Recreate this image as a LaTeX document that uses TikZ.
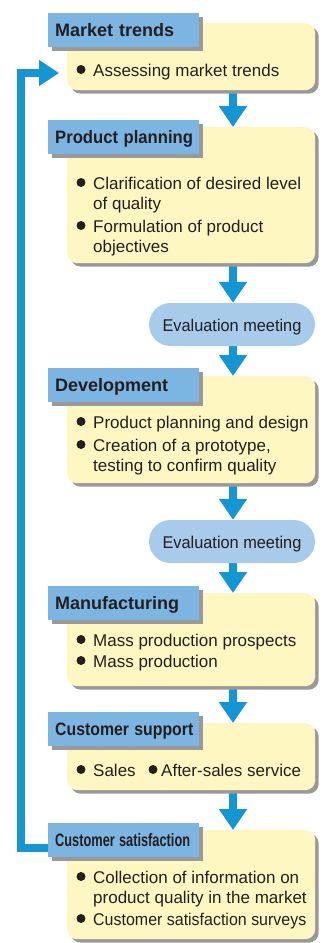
\documentclass[tikz,border=0pt]{standalone}
\usepackage{fontspec}
\usepackage{graphicx}
\setmainfont{Liberation Sans}
\usetikzlibrary{arrows.meta,shadows,backgrounds}
\definecolor{boxyellow}{HTML}{FFF7C2}
\definecolor{titleblue}{HTML}{7DB5E2}
\definecolor{pillblue}{HTML}{A8CBEB}
\definecolor{flowblue}{HTML}{1496D4}
\definecolor{shadowgray}{HTML}{999999}
\definecolor{inkdark}{HTML}{231F20}
\newcommand{\twolines}[2]{\vtop{\baselineskip=20pt\hbox{#1}\hbox{#2}}}
\begin{document}
\begin{tikzpicture}[x=1pt,y=-1pt,
  ybox/.style={fill=boxyellow, rounded corners=10pt, anchor=north west,
    minimum width=248pt, minimum height=#1, inner sep=0pt,
    general shadow={fill=shadowgray, shadow xshift=3.5pt, shadow yshift=-3.5pt}},
  titlebox/.style={fill=titleblue, anchor=north west, minimum width=151pt,
    minimum height=34pt, inner xsep=7pt, inner ysep=0pt, text width=137pt,
    align=left, text height=13pt, text depth=0pt, text=inkdark,
    font=\fontsize{18}{20}\selectfont\bfseries,
    general shadow={fill=shadowgray, shadow xshift=3.5pt, shadow yshift=-3.5pt}},
  pill/.style={fill=pillblue, rounded corners=21.5pt, minimum width=166pt,
    minimum height=43pt, inner sep=0pt, text height=13pt, text depth=0pt,
    text=inkdark, font=\fontsize{17}{20}\selectfont},
  item/.style={anchor=base west, inner sep=0pt, text=inkdark,
    font=\fontsize{17}{20}\selectfont},
  flow/.style={draw=flowblue, line width=8pt, -{Triangle[width=27pt,length=21pt]}},
  loopline/.style={draw=flowblue, line width=7.5pt, miter limit=10,
    -{Triangle[width=25pt,length=20pt]}},
  dot/.style={fill=inkdark}
]
\useasboundingbox (0,0) rectangle (322,943);

% yellow content boxes
\node[ybox=67pt]  (y1) at (67,23)  {};
\node[ybox=136pt] (y2) at (67,127) {};
\node[ybox=107pt] (y3) at (67,376) {};
\node[ybox=93pt]  (y4) at (67,593) {};
\node[ybox=67pt]  (y5) at (67,723) {};
\node[ybox=109pt] (y6) at (67,830) {};

% title tabs
\node[titlebox] (t1) at (48,13)  {Market trends};
\node[titlebox] (t2) at (48,120) {\scalebox{0.925}[1]{Product planning}};
\node[titlebox] (t3) at (48,368) {Development};
\node[titlebox] (t4) at (48,586) {Manufacturing};
\node[titlebox] (t5) at (48,712) {\scalebox{0.88}[1]{Customer support}};
\node[titlebox] (t6) at (48,823) {\scalebox{0.71}[1]{Customer satisfaction}};

% evaluation meetings
\node[pill] (e1) at (232,324.5) {\scalebox{0.96}[1]{Evaluation meeting}};
\node[pill] (e2) at (232,541.5) {\scalebox{0.96}[1]{Evaluation meeting}};

% items
\node[item] (i1)  at (93,76)  {Assessing market trends};
\node[item] (i2a) at (93,189) {\twolines{Clarification of desired level}{of quality}};
\node[item] (i2b) at (93,232) {\twolines{Formulation of product}{objectives}};
\node[item] (i3a) at (93,428) {Product planning and design};
\node[item] (i3b) at (93,451) {\twolines{Creation of a prototype,}{testing to confirm quality}};
\node[item] (i4a) at (93,646) {Mass production prospects};
\node[item] (i4b) at (93,667) {Mass production};
\node[item] (i5a) at (93,776) {Sales};
\node[item] (i5b) at (161,776) {After-sales service};
\node[item] (i6a) at (93,883) {\twolines{Collection of information on}{product quality in the market}};
\node[item] (i6b) at (93,925) {\scalebox{0.94}[1]{Customer satisfaction surveys}};

\foreach \n in {i1,i2a,i2b,i3a,i3b,i4a,i4b,i5a,i6a,i6b}
  \fill[dot] (\n.base west) ++(-12pt,6.5pt) circle (4.5pt);
\fill[dot] (i5b.base west) ++(-8pt,6.5pt) circle (4.5pt);

\coordinate (ax) at (233,0);
\coordinate (lpc) at (21,0);
\coordinate (lptip) at (59,73);

\begin{scope}[on background layer]
  \draw[flow] (y1.south -| ax) -- (y2.north -| ax);
  \draw[flow] (y2.south -| ax) -- (e1.north -| ax);
  \draw[flow] (e1.south -| ax) -- (y3.north -| ax);
  \draw[flow] (y3.south -| ax) -- (e2.north -| ax);
  \draw[flow] (e2.south -| ax) -- (y4.north -| ax);
  \draw[flow] (y4.south -| ax) -- (y5.north -| ax);
  \draw[flow] (y5.south -| ax) -- (y6.north -| ax);
  \draw[loopline] ([yshift=-8pt]t6.west) -| (lpc |- lptip) -- (lptip);
\end{scope}
\end{tikzpicture}
\end{document}
